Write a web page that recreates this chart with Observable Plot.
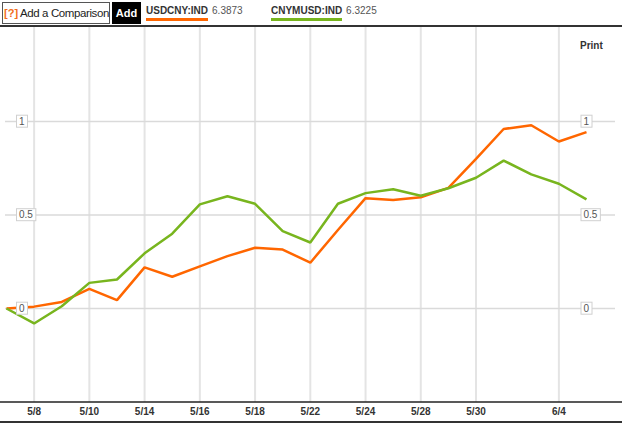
<!DOCTYPE html>
<html>
<head>
<meta charset="utf-8">
<script src="https://cdn.jsdelivr.net/npm/d3@7"></script>
<script src="https://cdn.jsdelivr.net/npm/@observablehq/plot@0.6"></script>
<style>
  html, body { margin: 0; padding: 0; background: #fff; width: 627px; height: 427px; overflow: hidden; }
  body { font-family: Arial, "Liberation Sans", sans-serif; position: relative; }
  #header { position: relative; height: 25px; width: 622px; border-bottom: 2px solid #333; }
  #cmp { position: absolute; left: 2px; top: 2px; width: 106px; height: 20px; border: 1px solid #555; font-size: 11.5px; letter-spacing: -0.4px; line-height: 20px; color: #222; white-space: nowrap; box-sizing: content-box; }
  #cmp .q { color: #f26c1a; font-weight: bold; font-size: 11px; margin-left: 1px; margin-right: 2px; letter-spacing: 0; }
  #add { position: absolute; left: 112px; top: 2px; width: 29px; height: 22px; background: #000; color: #fff; font-size: 11px; font-weight: bold; line-height: 22px; text-align: center; }
  .leg { position: absolute; top: 5px; font-size: 10px; white-space: nowrap; }
  .leg .sym { display: inline-block; color: #333; font-weight: bold; padding-bottom: 2px; border-bottom: 3px solid; line-height: 11px; }
  .leg .val { color: #555; margin-left: 4px; vertical-align: top; line-height: 11px; }
  #print { position: absolute; left: 580px; top: 40px; font-size: 10px; font-weight: bold; color: #333; }
  #chart { position: absolute; left: 0; top: 27px; }
  #bottom { position: absolute; left: 0; top: 421px; width: 622px; border-top: 2px solid #333; }
</style>
</head>
<body>
<div id="header">
  <div id="cmp"><span class="q">[?]</span>Add a Comparison</div>
  <div id="add">Add</div>
  <div class="leg" style="left:146px"><span class="sym" id="s1"></span><span class="val" id="v1"></span></div>
  <div class="leg" style="left:271px"><span class="sym" id="s2"></span><span class="val" id="v2"></span></div>
</div>
<div id="print">Print</div>
<div id="chart"></div>
<div id="bottom"></div>
<script>
const dates = ["5/7","5/8","5/9","5/10","5/11","5/14","5/15","5/16","5/17","5/18","5/21","5/22","5/23","5/24","5/25","5/28","5/29","5/30","5/31","6/1","6/4","6/5"];
const usdcny = [0, 0.01, 0.035, 0.105, 0.045, 0.22, 0.17, 0.225, 0.28, 0.325, 0.315, 0.245, 0.42, 0.59, 0.58, 0.595, 0.645, 0.80, 0.96, 0.98, 0.893, 0.943];
const cnymusd = [0, -0.08, 0.012, 0.137, 0.155, 0.295, 0.40, 0.557, 0.60, 0.56, 0.414, 0.353, 0.56, 0.617, 0.638, 0.603, 0.643, 0.699, 0.791, 0.717, 0.667, 0.584];
const tickLabels = ["5/8","5/10","5/14","5/16","5/18","5/22","5/24","5/28","5/30","6/4"];
const yTicks = [0, 0.5, 1];
const seriesNames = ["USDCNY:IND", "CNYMUSD:IND"];
const seriesLast = ["6.3873", "6.3225"];
const colors = ["#ff6600", "#78b51e"];

document.getElementById("s1").textContent = seriesNames[0];
document.getElementById("s1").style.borderColor = colors[0];
document.getElementById("v1").textContent = seriesLast[0];
document.getElementById("s2").textContent = seriesNames[1];
document.getElementById("s2").style.borderColor = colors[1];
document.getElementById("v2").textContent = seriesLast[1];

const rows = [];
dates.forEach((d, i) => {
  rows.push({date: d, value: usdcny[i], series: seriesNames[0]});
  rows.push({date: d, value: cnymusd[i], series: seriesNames[1]});
});

const chart = Plot.plot({
  width: 627,
  height: 395,
  marginTop: 0,
  marginLeft: 6,
  marginRight: 41,
  marginBottom: 20,
  style: {fontFamily: "Arial, 'Liberation Sans', sans-serif", background: "transparent", overflow: "visible"},
  x: {type: "point", domain: dates, padding: 0, round: false, range: [6, 586], label: null},
  y: {domain: [-0.5, 1.5], range: [374.5, 0.5], label: null, axis: null},
  color: {domain: seriesNames, range: colors},
  marks: [
    Plot.ruleX(tickLabels, {x: d => d, stroke: "#e4e4e4", strokeWidth: 2}),
    Plot.ruleY(yTicks, {stroke: "#dadada", strokeWidth: 1.5, insetLeft: -1, insetRight: -29}),
    Plot.ruleY([-0.5], {stroke: "#222", strokeWidth: 1.5, insetLeft: -6, insetRight: -36}),
    Plot.axisX({ticks: tickLabels, tickSize: 0, tickPadding: 5, fontSize: 10, fontWeight: "bold", fill: "#333"}),
    Plot.line(rows, {x: "date", y: "value", z: "series", stroke: "series", strokeWidth: 2.5, strokeLinejoin: "miter", strokeLinecap: "butt"}),
    Plot.text(yTicks, {y: d => d, text: d => String(d), frameAnchor: "left", dx: 12.5, textAnchor: "start", fontSize: 10, fill: "#555"}),
    Plot.text(yTicks, {y: d => d, text: d => String(d), frameAnchor: "right", dx: -3, textAnchor: "start", fontSize: 10, fill: "#555"})
  ]
});
document.getElementById("chart").append(chart);

const ns = "http://www.w3.org/2000/svg";
const yLabelSet = new Set(yTicks.map(String));
chart.querySelectorAll("text").forEach(t => {
  if (!yLabelSet.has(t.textContent)) return;
  const b = t.getBBox();
  const r = document.createElementNS(ns, "rect");
  r.setAttribute("x", b.x - 2.5);
  r.setAttribute("y", b.y - 0.5);
  r.setAttribute("width", b.width + 5);
  r.setAttribute("height", b.height + 1);
  r.setAttribute("fill", "#fff");
  r.setAttribute("stroke", "#d0d0d0");
  r.setAttribute("stroke-width", "1");
  const tr = t.getAttribute("transform");
  if (tr) r.setAttribute("transform", tr);
  t.parentNode.insertBefore(r, t);
});
</script>
</body>
</html>
